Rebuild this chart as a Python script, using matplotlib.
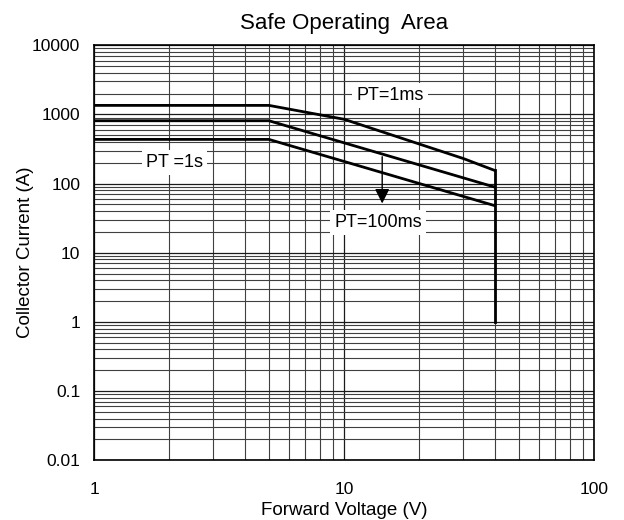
import matplotlib.pyplot as plt
from matplotlib.ticker import FixedLocator, FixedFormatter, NullFormatter

plt.rcParams['font.family'] = ['Liberation Sans', 'DejaVu Sans']

# SOA curves (voltage in V, current in A)
V_1MS = [1, 5, 10, 30, 40]
I_1MS = [1350, 1350, 850, 230, 155]
V_100MS = [1, 5, 40]
I_100MS = [810, 810, 89]
V_1S = [1, 5, 40]
I_1S = [435, 435, 48]
V_LIMIT = [40, 40]
I_LIMIT = [155, 1]

X_TICKS = [1, 10, 100]
X_TICK_LABELS = ['1', '10', '100']
Y_TICKS = [0.01, 0.1, 1, 10, 100, 1000, 10000]
Y_TICK_LABELS = ['0.01', '0.1', '1', '10', '100', '1000', '10000']

LABELS = [
    ('PT=1ms', 15.3, 1880),
    ('PT =1s', 2.1, 202),
    ('PT=100ms', 13.7, 27.5),
]
ARROW_X = 14.2
ARROW_FROM = 268
ARROW_TO = 47


def main() -> None:
    fig = plt.figure(figsize=(6.24, 5.2), dpi=100)
    ax = fig.add_axes([0.151, 0.115, 0.801, 0.798])

    ax.set_xscale('log')
    ax.set_yscale('log')
    ax.set_xlim(1, 100)
    ax.set_ylim(0.01, 10000)

    ax.grid(which='major', color='0.1', linewidth=0.9)
    ax.grid(which='minor', color='0.25', linewidth=0.8)

    for v, i in [(V_1MS, I_1MS), (V_100MS, I_100MS), (V_1S, I_1S), (V_LIMIT, I_LIMIT)]:
        ax.plot(v, i, color='black', linewidth=2.0, solid_joinstyle='miter', zorder=3)

    ax.annotate(
        '',
        xy=(ARROW_X, ARROW_TO),
        xytext=(ARROW_X, ARROW_FROM),
        arrowprops=dict(arrowstyle='-|>', color='black', linewidth=1.0, mutation_scale=22),
        zorder=4,
    )

    for text, x, y in LABELS:
        ax.text(
            x, y, text,
            ha='center', va='center', fontsize=13,
            bbox=dict(facecolor='white', edgecolor='none', pad=3),
            zorder=5,
        )

    ax.xaxis.set_major_locator(FixedLocator(X_TICKS))
    ax.xaxis.set_major_formatter(FixedFormatter(X_TICK_LABELS))
    ax.yaxis.set_major_locator(FixedLocator(Y_TICKS))
    ax.yaxis.set_major_formatter(FixedFormatter(Y_TICK_LABELS))
    ax.xaxis.set_minor_formatter(NullFormatter())
    ax.yaxis.set_minor_formatter(NullFormatter())
    ax.tick_params(which='both', direction='in', length=0, labelsize=12.5)
    ax.tick_params(axis='x', pad=16)
    ax.tick_params(axis='y', pad=10)

    for spine in ax.spines.values():
        spine.set_linewidth(1.2)

    ax.set_title('Safe Operating  Area', fontsize=16, pad=12)
    ax.set_xlabel('Forward Voltage (V)', fontsize=13.5, labelpad=3)
    ax.set_ylabel('Collector Current (A)', fontsize=13.5)
    ax.yaxis.set_label_coords(-0.12, 0.5)

    fig.savefig('out.png', dpi=100)
    plt.close(fig)


if __name__ == '__main__':
    main()
